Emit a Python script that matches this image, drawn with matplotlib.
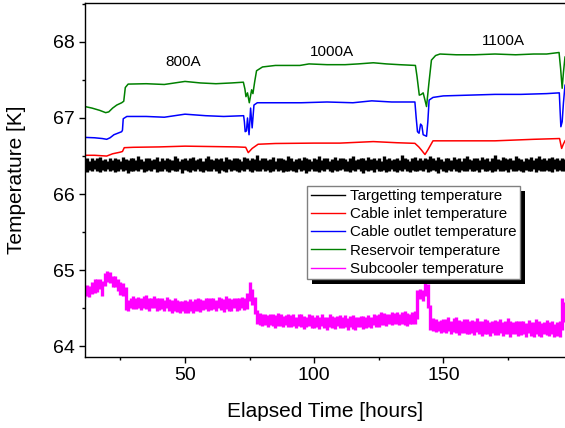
import numpy as np
import matplotlib
matplotlib.use("Agg")
import matplotlib.pyplot as plt
from matplotlib.patches import Rectangle
from matplotlib.ticker import MultipleLocator, AutoMinorLocator

plt.rcParams["font.family"] = ["Liberation Sans", "DejaVu Sans"]

# smooth traces: (time [h], temperature [K])
RES_T = [11.3, 14, 17, 19.3, 20.5, 22, 23.6, 25.5, 26.3, 26.9, 28, 35, 42, 50, 56, 62, 68,
         72.6, 73.2, 73.6, 74.2, 74.9, 75.8, 76.3, 77.0, 77.7, 80, 85, 94.5, 98, 105, 112,
         117, 122.9, 128, 133, 139.2, 139.8, 140.7, 141.5, 142.2, 143.0, 143.5, 144.4,
         145.4, 147, 148.7, 155, 162, 170, 178, 185, 190, 194.8, 195.4, 196.0, 196.5, 197.1]
RES_K = [67.15, 67.13, 67.10, 67.07, 67.08, 67.13, 67.17, 67.20, 67.22, 67.40, 67.445, 67.45,
         67.44, 67.48, 67.46, 67.45, 67.46, 67.47, 67.38, 67.28, 67.33, 67.20, 67.37, 67.32,
         67.48, 67.62, 67.67, 67.69, 67.69, 67.71, 67.70, 67.70, 67.71, 67.725, 67.71, 67.70,
         67.69, 67.55, 67.30, 67.31, 67.33, 67.22, 67.15, 67.45, 67.76, 67.82, 67.84, 67.83,
         67.83, 67.84, 67.83, 67.84, 67.84, 67.86, 67.65, 67.39, 67.60, 67.80]

OUT_T = [11.3, 15, 18, 19.7, 21, 22.5, 24, 25.5, 25.8, 26.1, 27.5, 35, 42, 50, 58, 65, 72.7,
         73.0, 73.3, 73.8, 74.2, 74.8, 75.4, 76.0, 76.7, 78, 85, 95, 105, 115, 122.3, 130,
         139.0, 139.5, 140.0, 140.6, 141.2, 141.7, 142.2, 143.5, 144.0, 144.5, 146, 150, 160,
         170, 180, 190, 194.9, 195.2, 195.5, 196.0, 196.5, 197.1]
OUT_K = [66.745, 66.74, 66.73, 66.72, 66.74, 66.78, 66.80, 66.82, 66.84, 66.99, 67.02, 67.02,
         67.01, 67.05, 67.03, 67.02, 67.03, 66.95, 66.82, 66.83, 67.00, 66.78, 67.13, 66.87,
         67.17, 67.20, 67.20, 67.20, 67.21, 67.20, 67.225, 67.21, 67.21, 67.00, 66.82, 66.80,
         66.92, 66.90, 66.78, 66.76, 66.95, 67.235, 67.27, 67.29, 67.30, 67.31, 67.31, 67.32,
         67.33, 67.10, 66.885, 66.95, 67.20, 67.43]

IN_T = [11.3, 15, 19.7, 22, 24.8, 25.8, 26.5, 30, 40, 50, 60, 70, 73.5, 74.5, 76, 78.3, 85,
        100, 110, 122.9, 132, 139, 140.5, 141.5, 142.9, 144, 146, 155, 170, 185, 195, 195.8,
        196.5, 197.1]
IN_K = [66.51, 66.51, 66.50, 66.53, 66.55, 66.56, 66.61, 66.615, 66.62, 66.63, 66.625, 66.62,
        66.615, 66.545, 66.60, 66.655, 66.665, 66.67, 66.67, 66.69, 66.675, 66.667, 66.62,
        66.58, 66.52, 66.58, 66.70, 66.70, 66.70, 66.72, 66.73, 66.60, 66.66, 66.70]

# noisy traces: max / min reading in each 1 h bin, 11 h .. 197 h
NOISY_START, NOISY_END = 11, 197

TARGET_HI = [
    66.46, 66.47, 66.44, 66.48, 66.45, 66.47, 66.49, 66.45, 66.46, 66.44,
    66.48, 66.45, 66.47, 66.46, 66.44, 66.49, 66.46, 66.45, 66.48, 66.47,
    66.45, 66.50, 66.46, 66.44, 66.47, 66.48, 66.45, 66.46, 66.49, 66.44,
    66.47, 66.45, 66.48, 66.46, 66.45, 66.50, 66.47, 66.44, 66.46, 66.48,
    66.45, 66.47, 66.49, 66.45, 66.46, 66.48, 66.44, 66.47, 66.50, 66.46,
    66.45, 66.48, 66.46, 66.47, 66.44, 66.49, 66.46, 66.45, 66.48, 66.47,
    66.46, 66.44, 66.49, 66.47, 66.45, 66.48, 66.46, 66.51, 66.45, 66.47,
    66.48, 66.45, 66.46, 66.49, 66.44, 66.47, 66.48, 66.46, 66.45, 66.50,
    66.47, 66.44, 66.46, 66.48, 66.45, 66.49, 66.47, 66.46, 66.44, 66.48,
    66.46, 66.50, 66.45, 66.47, 66.48, 66.44, 66.46, 66.49, 66.45, 66.47,
    66.48, 66.46, 66.44, 66.47, 66.50, 66.45, 66.46, 66.48, 66.47, 66.45,
    66.49, 66.46, 66.47, 66.45, 66.48, 66.44, 66.50, 66.46, 66.47, 66.45,
    66.46, 66.48, 66.45, 66.51, 66.47, 66.46, 66.44, 66.48, 66.49, 66.45,
    66.47, 66.45, 66.48, 66.46, 66.50, 66.47, 66.45, 66.49, 66.46, 66.44,
    66.48, 66.47, 66.45, 66.49, 66.46, 66.48, 66.44, 66.47, 66.50, 66.46,
    66.45, 66.48, 66.47, 66.45, 66.49, 66.46, 66.48, 66.44, 66.47, 66.51,
    66.46, 66.45, 66.49, 66.47, 66.46, 66.48, 66.45, 66.50, 66.47, 66.46,
    66.44, 66.48, 66.46, 66.49, 66.45, 66.47, 66.50, 66.46, 66.48, 66.45,
    66.47, 66.49, 66.46, 66.48, 66.45, 66.47, 66.46,
]
TARGET_LO = [
    66.31, 66.29, 66.32, 66.30, 66.33, 66.31, 66.29, 66.32, 66.30, 66.33,
    66.30, 66.32, 66.29, 66.31, 66.33, 66.30, 66.32, 66.28, 66.31, 66.30,
    66.32, 66.30, 66.33, 66.29, 66.31, 66.32, 66.30, 66.33, 66.29, 66.31,
    66.30, 66.33, 66.31, 66.29, 66.32, 66.30, 66.31, 66.33, 66.28, 66.32,
    66.31, 66.29, 66.32, 66.30, 66.33, 66.31, 66.29, 66.32, 66.30, 66.31,
    66.33, 66.30, 66.28, 66.32, 66.31, 66.29, 66.33, 66.30, 66.32, 66.31,
    66.29, 66.32, 66.30, 66.33, 66.31, 66.29, 66.32, 66.30, 66.31, 66.33,
    66.30, 66.32, 66.29, 66.31, 66.33, 66.30, 66.32, 66.29, 66.31, 66.30,
    66.32, 66.31, 66.29, 66.33, 66.30, 66.32, 66.28, 66.31, 66.33, 66.30,
    66.31, 66.29, 66.32, 66.30, 66.33, 66.31, 66.29, 66.32, 66.30, 66.32,
    66.33, 66.30, 66.31, 66.29, 66.32, 66.30, 66.33, 66.31, 66.28, 66.32,
    66.30, 66.32, 66.29, 66.33, 66.31, 66.30, 66.32, 66.29, 66.31, 66.33,
    66.31, 66.29, 66.32, 66.30, 66.33, 66.31, 66.29, 66.32, 66.30, 66.31,
    66.32, 66.30, 66.33, 66.29, 66.31, 66.32, 66.30, 66.28, 66.33, 66.31,
    66.29, 66.32, 66.31, 66.33, 66.30, 66.29, 66.32, 66.31, 66.30, 66.33,
    66.31, 66.30, 66.32, 66.29, 66.33, 66.31, 66.30, 66.32, 66.29, 66.31,
    66.33, 66.30, 66.31, 66.32, 66.29, 66.33, 66.30, 66.31, 66.32, 66.30,
    66.29, 66.32, 66.31, 66.30, 66.33, 66.29, 66.32, 66.31, 66.30, 66.32,
    66.31, 66.29, 66.33, 66.30, 66.32, 66.31, 66.30,
]

SUB_HI = [
    64.77, 64.81, 64.80, 64.84, 64.88, 64.88, 64.89, 64.86, 64.96, 64.99,
    64.98, 64.93, 64.93, 64.88, 64.85, 64.83, 64.78, 64.61, 64.63, 64.66,
    64.64, 64.65, 64.63, 64.66, 64.67, 64.63, 64.63, 64.66, 64.64, 64.63,
    64.64, 64.61, 64.65, 64.62, 64.61, 64.64, 64.61, 64.59, 64.59, 64.61,
    64.59, 64.62, 64.59, 64.62, 64.64, 64.62, 64.61, 64.64, 64.63, 64.63,
    64.64, 64.61, 64.65, 64.63, 64.62, 64.66, 64.63, 64.62, 64.63, 64.64,
    64.63, 64.65, 64.63, 64.70, 64.84, 64.76, 64.65, 64.48, 64.44, 64.42,
    64.43, 64.41, 64.43, 64.42, 64.41, 64.44, 64.43, 64.40, 64.41, 64.43,
    64.41, 64.42, 64.39, 64.42, 64.43, 64.40, 64.38, 64.42, 64.41, 64.39,
    64.41, 64.38, 64.42, 64.39, 64.39, 64.43, 64.40, 64.38, 64.40, 64.41,
    64.39, 64.41, 64.37, 64.40, 64.41, 64.39, 64.38, 64.40, 64.40, 64.39,
    64.41, 64.39, 64.43, 64.41, 64.42, 64.45, 64.44, 64.42, 64.43, 64.45,
    64.44, 64.45, 64.43, 64.45, 64.46, 64.44, 64.43, 64.45, 64.46, 64.74,
    64.76, 64.74, 64.86, 64.82, 64.55, 64.37, 64.36, 64.34, 64.35, 64.36,
    64.36, 64.38, 64.34, 64.37, 64.38, 64.35, 64.34, 64.36, 64.36, 64.34,
    64.35, 64.33, 64.37, 64.34, 64.34, 64.36, 64.35, 64.32, 64.34, 64.35,
    64.33, 64.36, 64.32, 64.34, 64.37, 64.33, 64.32, 64.34, 64.34, 64.33,
    64.34, 64.31, 64.35, 64.32, 64.32, 64.36, 64.33, 64.31, 64.32, 64.35,
    64.32, 64.34, 64.30, 64.32, 64.33, 64.64, 64.58,
]
SUB_LO = [
    64.62, 64.66, 64.65, 64.69, 64.70, 64.71, 64.76, 64.66, 64.79, 64.84,
    64.83, 64.78, 64.78, 64.73, 64.68, 64.66, 64.48, 64.46, 64.50, 64.49,
    64.49, 64.50, 64.48, 64.51, 64.49, 64.46, 64.50, 64.51, 64.47, 64.48,
    64.49, 64.46, 64.50, 64.47, 64.44, 64.47, 64.45, 64.44, 64.46, 64.44,
    64.44, 64.47, 64.44, 64.47, 64.46, 64.45, 64.48, 64.49, 64.46, 64.48,
    64.49, 64.46, 64.50, 64.48, 64.45, 64.49, 64.47, 64.47, 64.50, 64.47,
    64.48, 64.50, 64.48, 64.49, 64.60, 64.55, 64.42, 64.30, 64.28, 64.27,
    64.28, 64.26, 64.28, 64.27, 64.24, 64.27, 64.27, 64.25, 64.28, 64.26,
    64.26, 64.27, 64.24, 64.27, 64.25, 64.23, 64.25, 64.27, 64.24, 64.24,
    64.26, 64.23, 64.27, 64.24, 64.22, 64.26, 64.24, 64.23, 64.27, 64.24,
    64.24, 64.26, 64.22, 64.25, 64.23, 64.22, 64.25, 64.25, 64.23, 64.24,
    64.26, 64.24, 64.28, 64.26, 64.25, 64.28, 64.28, 64.27, 64.30, 64.28,
    64.29, 64.30, 64.28, 64.30, 64.28, 64.27, 64.30, 64.30, 64.29, 64.36,
    64.62, 64.60, 64.66, 64.50, 64.22, 64.20, 64.19, 64.20, 64.18, 64.19,
    64.18, 64.20, 64.16, 64.19, 64.17, 64.15, 64.18, 64.18, 64.16, 64.16,
    64.17, 64.15, 64.19, 64.16, 64.14, 64.16, 64.16, 64.14, 64.18, 64.15,
    64.15, 64.18, 64.14, 64.16, 64.16, 64.13, 64.16, 64.16, 64.14, 64.15,
    64.16, 64.13, 64.17, 64.14, 64.12, 64.16, 64.14, 64.13, 64.16, 64.15,
    64.14, 64.16, 64.12, 64.14, 64.13, 64.22, 64.32,
]

CURRENT_LABELS = ["800A", "1000A", "1100A"]
CURRENT_X = [49.3, 106.8, 173.2]
CURRENT_Y = [67.73, 67.87, 68.01]

fig = plt.figure(figsize=(5.65, 4.28), dpi=100)
ax = fig.add_axes([85 / 565, 71.3 / 428, 480 / 565, 353.7 / 428])

t_target = np.linspace(NOISY_START, NOISY_END, len(TARGET_HI))
t_sub = np.linspace(NOISY_START, NOISY_END, len(SUB_HI))

# min/max per bin drawn as vertical strokes, gives the dense noisy band
ax.vlines(t_target, TARGET_LO, TARGET_HI, color="black", lw=2.4)
ax.plot(IN_T, IN_K, color="red", lw=1.1)
ax.plot(OUT_T, OUT_K, color="blue", lw=1.1)
ax.plot(RES_T, RES_K, color="green", lw=1.1)
ax.vlines(t_sub, SUB_LO, SUB_HI, color="magenta", lw=2.4)

for lab, x, y in zip(CURRENT_LABELS, CURRENT_X, CURRENT_Y):
    ax.text(x, y, lab, fontsize=11, ha="center", va="center")

ax.set_xlim(11.3, 197.1)
ax.set_ylim(63.865, 68.51)
ax.xaxis.set_major_locator(MultipleLocator(50))
ax.xaxis.set_minor_locator(AutoMinorLocator(2))
ax.yaxis.set_major_locator(MultipleLocator(1))
ax.yaxis.set_minor_locator(AutoMinorLocator(2))
ax.tick_params(which="major", direction="out", length=4.5, width=1, labelsize=14, pad=3)
ax.tick_params(which="minor", direction="out", length=2.5, width=1)
ax.spines["right"].set_visible(False)
for s in ["left", "bottom", "top"]:
    ax.spines[s].set_linewidth(1.0)

ax.set_xlabel("Elapsed Time [hours]", fontsize=15)
ax.set_ylabel("Temperature [K]", fontsize=15)
ax.xaxis.set_label_coords(0.5, -0.128)
ax.yaxis.set_label_coords(-0.123, 0.5)

handles = [plt.Line2D([], [], color=c, lw=1.0)
           for c in ["black", "red", "blue", "green", "magenta"]]
labels = ["Targetting temperature", "Cable inlet temperature", "Cable outlet temperature",
          "Reservoir temperature", "Subcooler temperature"]
leg = ax.legend(handles, labels, loc="upper left", bbox_to_anchor=(0.463, 0.4835),
                borderaxespad=0, fontsize=10.9, fancybox=False, edgecolor="#808080",
                framealpha=1, handlelength=2.3, handletextpad=0.3, labelspacing=0.28,
                borderpad=0.22)
leg.get_frame().set_linewidth(1.0)

# solid black drop shadow behind the legend box
fig.canvas.draw()
bb = leg.get_window_extent().transformed(ax.transAxes.inverted())
ax.add_patch(Rectangle((bb.x0 + 5 / 480, bb.y0 - 5 / 353.7), bb.width, bb.height,
                       transform=ax.transAxes, facecolor="black", edgecolor="none",
                       zorder=4.9, clip_on=False))

fig.savefig("out.png", dpi=100)
